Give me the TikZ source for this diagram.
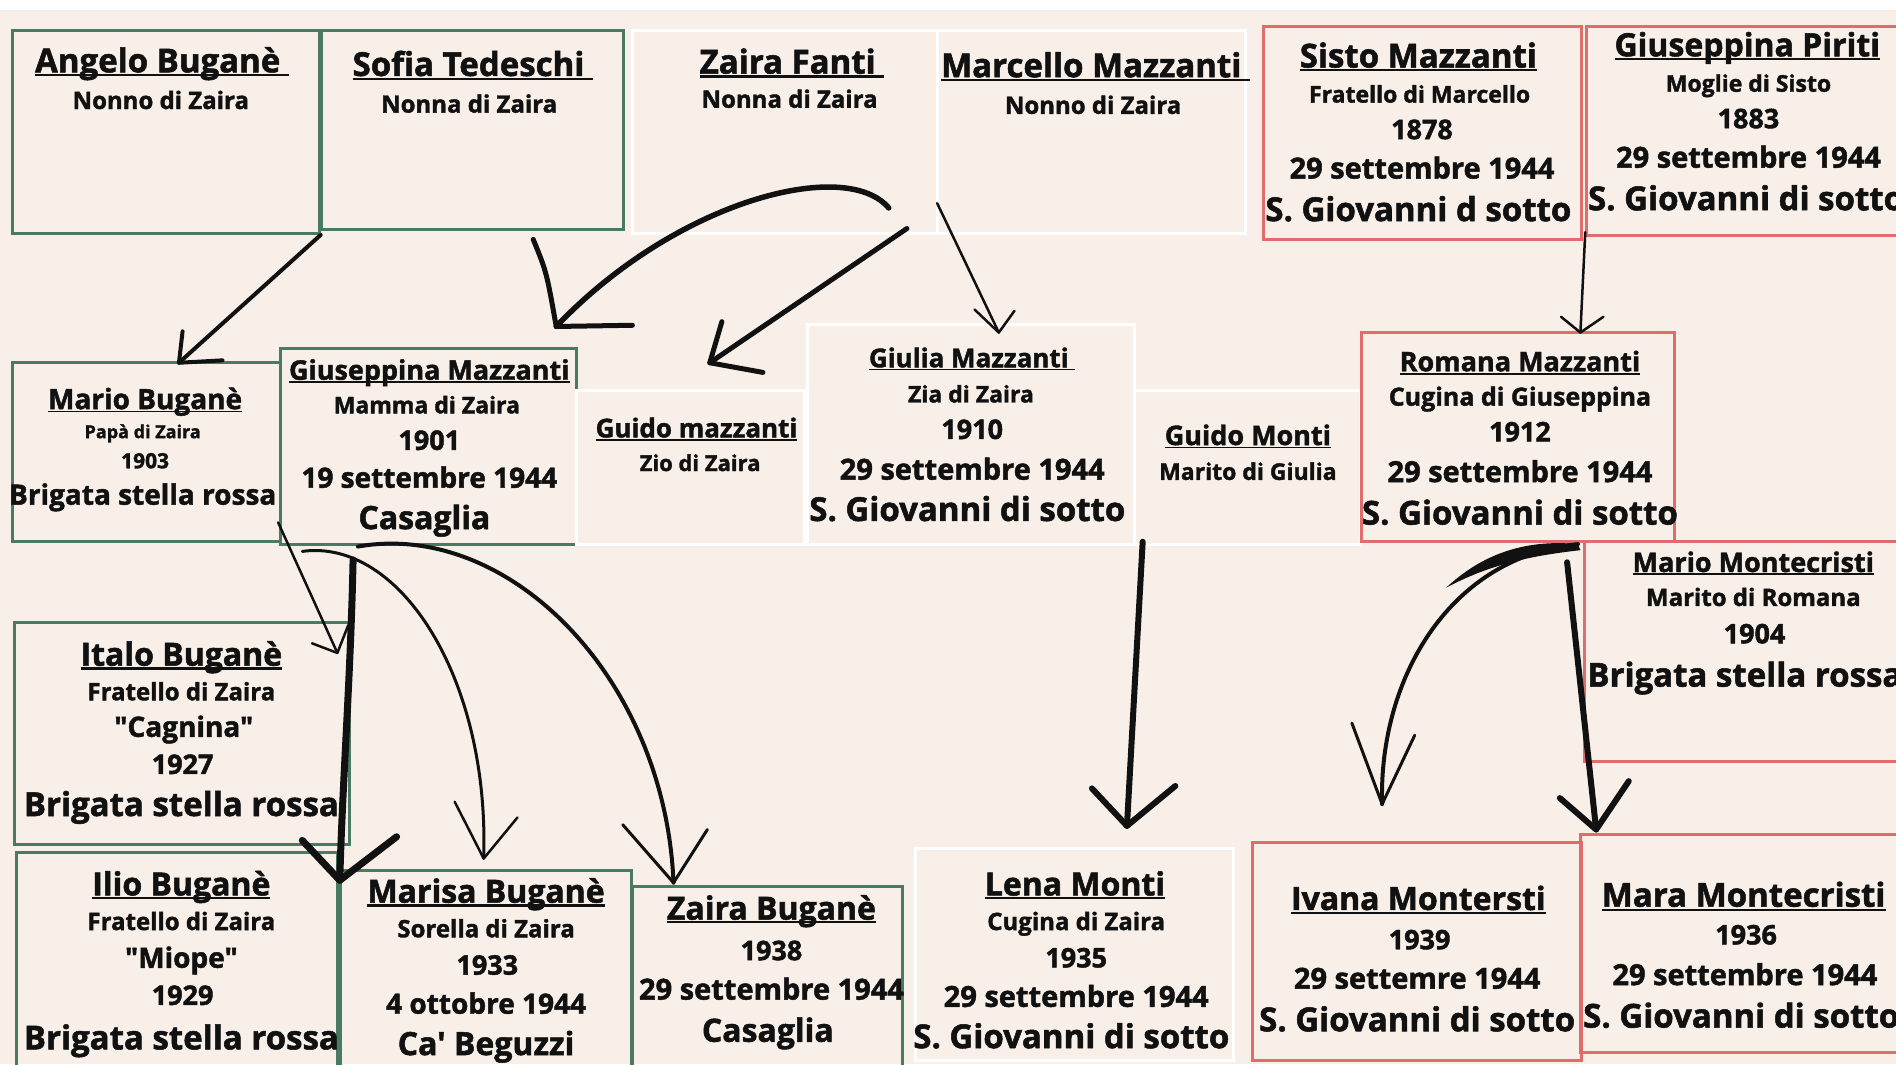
\documentclass[tikz,border=0pt]{standalone}
\usepackage{fontspec}
\newfontfamily\osans{Open Sans}
\usetikzlibrary{fit}
\definecolor{bg}{HTML}{F8F0E8}
\definecolor{gr}{HTML}{4A7A62}
\definecolor{rd}{HTML}{E06C6C}
\definecolor{wt}{HTML}{FFFFFF}
\definecolor{ink}{HTML}{111111}
\newcommand\ul[1]{\setbox0\hbox{#1}\rlap{\rule[-0.12em]{\wd0}{0.065em}}\box0}
\newcounter{tn}
\newcommand\tx[4]{\stepcounter{tn}\node[txt] (t\arabic{tn}) at (#1,{#2+0.298*#3}) {\fontsize{#3pt}{#3pt}\selectfont\addfontfeature{FakeBold=1.6}#4};}
\newcommand\bx[6]{\node[#2, fit={(#3,#4) (#5,#6)}] (#1) {};}
\tikzset{
 txt/.style={anchor=base, inner sep=0pt, text=ink, font=\osans\bfseries},
 gbox/.style={draw=gr, line width=3pt, inner sep=0pt},
 rbox/.style={draw=rd, line width=3pt, inner sep=0pt},
 wbox/.style={draw=wt, line width=3pt, inner sep=0pt},
 pen/.style={draw=ink, line cap=round, line join=round},
}
\begin{document}
\begin{tikzpicture}[x=1.2092pt,y=-1.2092pt]
\useasboundingbox (0,0) rectangle (1568,880);
\clip (0,0) rectangle (1568,880);
\fill[white] (0,0) rectangle (1568,8);
\fill[bg] (0,8) rectangle (1568,880);
% boxes
\bx{angelo}{gbox}{10}{25}{264}{193}
\bx{sofia}{gbox}{266}{25}{516}{190}
\bx{zfanti}{wbox}{523}{25}{775}{193}
\bx{marcello}{wbox}{775}{25}{1030}{193}
\bx{sisto}{rbox}{1045}{22}{1308}{198}
\bx{piriti}{rbox}{1312}{22}{1580}{195}
\bx{mario}{gbox}{10}{300}{232}{448}
\bx{gmazz}{gbox}{232}{288}{477}{450}
\bx{guidomz}{wbox}{477}{323}{665}{450}
\bx{giulia}{wbox}{668}{268}{938}{450}
\bx{guidomonti}{wbox}{938}{323}{1125}{450}
\bx{romana}{rbox}{1126}{275}{1385}{448}
\bx{montecristi}{rbox}{1310}{448}{1580}{630}
\bx{italo}{gbox}{12}{515}{289}{698}
\bx{ilio}{gbox}{14}{705}{279}{895}
\bx{marisa}{gbox}{282}{720}{522}{895}
\bx{zbug}{gbox}{523}{733}{746}{895}
\bx{lena}{wbox}{757}{702}{1020}{877}
\bx{ivana}{rbox}{1036}{697}{1308}{877}
\bx{mara}{rbox}{1307}{690}{1580}{870}
% texts row 1
\tx{134}{50}{33}{\ul{Angelo Buganè\ }}
\tx{133}{83}{24}{Nonno di Zaira}
\tx{391}{53}{33}{\ul{Sofia Tedeschi\ }}
\tx{388}{86}{24}{Nonna di Zaira}
\tx{655}{51}{33}{\ul{Zaira Fanti\ }}
\tx{653}{82}{24}{Nonna di Zaira}
\tx{906}{54}{33}{\ul{Marcello Mazzanti\ }}
\tx{904}{87}{24}{Nonno di Zaira}
\tx{1173}{46}{33}{\ul{Sisto Mazzanti}}
\tx{1174}{78}{23}{Fratello di Marcello}
\tx{1176}{107}{27}{1878}
\tx{1176}{139}{29}{29 settembre 1944}
\tx{1173}{173}{33}{S. Giovanni d sotto}
\tx{1445}{37}{32}{\ul{Giuseppina Piriti}}
\tx{1446}{69}{23}{Moglie di Sisto}
\tx{1446}{98}{27}{1883}
\tx{1446}{130}{29}{29 settembre 1944}
\tx{1444}{164}{33}{S. Giovanni di sotto}
% row 2
\tx{120}{330}{28}{\ul{Mario Buganè}}
\tx{118}{357}{18}{Papà di Zaira}
\tx{120}{381}{21}{1903}
\tx{118}{409}{28}{Brigata stella rossa}
\tx{355}{306}{27}{\ul{Giuseppina Mazzanti}}
\tx{353}{335}{23}{Mamma di Zaira}
\tx{355}{364}{27}{1901}
\tx{355}{395}{28}{19 settembre 1944}
\tx{351}{428}{32}{Casaglia}
\tx{576}{354}{26}{\ul{Guido mazzanti}}
\tx{579}{383}{22}{Zio di Zaira}
\tx{804}{296}{26}{\ul{Giulia Mazzanti\ }}
\tx{803}{326}{23}{Zia di Zaira}
\tx{804}{355}{27}{1910}
\tx{804}{388}{29}{29 settembre 1944}
\tx{800}{421}{33}{S. Giovanni di sotto}
\tx{1032}{360}{27}{\ul{Guido Monti}}
\tx{1032}{390}{23}{Marito di Giulia}
\tx{1257}{299}{27}{\ul{Romana Mazzanti}}
\tx{1257}{328}{25}{Cugina di Giuseppina}
\tx{1257}{357}{27}{1912}
\tx{1257}{390}{29}{29 settembre 1944}
\tx{1257}{424}{33}{S. Giovanni di sotto}
\tx{1450}{465}{27}{\ul{Mario Montecristi}}
\tx{1450}{494}{24}{Marito di Romana}
\tx{1451}{524}{27}{1904}
\tx{1443}{558}{33}{Brigata stella rossa}
% row 3/4
\tx{150}{541}{32}{\ul{Italo Buganè}}
\tx{150}{572}{24}{Fratello di Zaira}
\tx{152}{601}{28}{"Cagnina"}
\tx{151}{632}{27}{1927}
\tx{150}{665}{33}{Brigata stella rossa}
\tx{150}{731}{32}{\ul{Ilio Buganè}}
\tx{150}{762}{24}{Fratello di Zaira}
\tx{150}{792}{28}{"Miope"}
\tx{151}{823}{27}{1929}
\tx{150}{858}{33}{Brigata stella rossa}
\tx{402}{737}{32}{\ul{Marisa Buganè}}
\tx{402}{768}{24}{Sorella di Zaira}
\tx{403}{798}{27}{1933}
\tx{402}{830}{28}{4 ottobre 1944}
\tx{402}{863}{32}{Ca' Beguzzi}
\tx{638}{751}{32}{\ul{Zaira Buganè}}
\tx{638}{786}{27}{1938}
\tx{638}{818}{29}{29 settembre 1944}
\tx{635}{852}{32}{Casaglia}
\tx{889}{731}{32}{\ul{Lena Monti}}
\tx{890}{762}{24}{Cugina di Zaira}
\tx{890}{792}{27}{1935}
\tx{890}{824}{29}{29 settembre 1944}
\tx{886}{857}{33}{S. Giovanni di sotto}
\tx{1173}{743}{32}{\ul{Ivana Montersti}}
\tx{1174}{777}{27}{1939}
\tx{1172}{809}{29}{29 settemre 1944}
\tx{1172}{843}{33}{S. Giovanni di sotto}
\tx{1442}{740}{33}{\ul{Mara Montecristi}}
\tx{1444}{773}{27}{1936}
\tx{1443}{806}{29}{29 settembre 1944}
\tx{1440}{840}{33}{S. Giovanni di sotto}
% arrows
% 1 Angelo/Sofia -> Mario
\coordinate (a1s) at (angelo.south east);
\coordinate (a1t) at (148,300);
\coordinate (a1l) at (151,274);
\coordinate (a1r) at (184,298);
\draw[pen, line width=4pt] (a1s) -- (a1t);
\draw[pen, line width=4pt] (a1l) -- (a1t) -- (a1r);
% 2 Zaira Fanti/Marcello -> Giuseppina
\coordinate (a2s) at (735,172);
\coordinate (a2t) at (460,270);
\coordinate (a2l) at (441,198);
\coordinate (a2r) at (523,269);
\draw[pen, line width=5.5pt] (a2s) .. controls (700,130) and (560,165) .. (a2t);
\draw[pen, line width=5pt] (a2l) .. controls (452,225) .. (a2t) -- (a2r);
% 3 -> Guido mazzanti
\coordinate (a3s) at (750,189);
\coordinate (a3t) at (587,300);
\coordinate (a3l) at (597,266);
\coordinate (a3r) at (631,308);
\draw[pen, line width=5pt] (a3s) -- (a3t);
\draw[pen, line width=5pt] (a3l) -- (a3t) -- (a3r);
% 4 -> Giulia
\coordinate (a4s) at (775,168);
\coordinate (a4t) at (826,275);
\coordinate (a4l) at (806,256);
\coordinate (a4r) at (839,257);
\draw[pen, line width=2.5pt] (a4s) -- (a4t);
\draw[pen, line width=2.5pt] (a4l) -- (a4t) -- (a4r);
% 5 Sisto -> Romana
\coordinate (a5s) at (1311,192);
\coordinate (a5t) at (1307,275);
\coordinate (a5l) at (1291,262);
\coordinate (a5r) at (1326,262);
\draw[pen, line width=2.5pt] (a5s) -- (a5t);
\draw[pen, line width=2.5pt] (a5l) -- (a5t) -- (a5r);
% 6 Mario -> Italo
\coordinate (a6s) at (230,432);
\coordinate (a6t) at (279,540);
\coordinate (a6l) at (258,532);
\coordinate (a6r) at (288,517);
\draw[pen, line width=2.5pt] (a6s) -- (a6t);
\draw[pen, line width=2.5pt] (a6l) -- (a6t) -- (a6r);
% 7 Giuseppina -> Ilio
\coordinate (a7s) at (292,463);
\coordinate (a7t) at (281,728);
\coordinate (a7l) at (250,695);
\coordinate (a7r) at (328,692);
\draw[pen, line width=7pt] (a7s) .. controls (290,560) and (283,650) .. (a7t);
\draw[pen, line width=7pt] (a7l) -- (a7t) -- (a7r);
% 8 -> Marisa
\coordinate (a8s) at (250,456);
\coordinate (a8t) at (400,710);
\coordinate (a8l) at (376,663);
\coordinate (a8r) at (428,676);
\draw[pen, line width=3pt] (a8s) .. controls (330,445) and (405,560) .. (a8t);
\draw[pen, line width=2.5pt] (a8l) -- (a8t) -- (a8r);
% 9 -> Zaira
\coordinate (a9s) at (296,452);
\coordinate (a9t) at (557,730);
\coordinate (a9l) at (515,682);
\coordinate (a9r) at (585,686);
\draw[pen, line width=4pt] (a9s) .. controls (420,430) and (550,560) .. (a9t);
\draw[pen, line width=3pt] (a9l) -- (a9t) -- (a9r);
% 10 Giulia/Guido -> Lena
\coordinate (a10s) at (945,448);
\coordinate (a10t) at (932,683);
\coordinate (a10l) at (903,652);
\coordinate (a10r) at (972,650);
\draw[pen, line width=6pt] (a10s) -- (a10t);
\draw[pen, line width=6pt] (a10l) -- (a10t) -- (a10r);
% 11 Romana -> Ivana
\coordinate (a11s) at (1305,450);
\coordinate (a11t) at (1143,665);
\coordinate (a11l) at (1118,598);
\coordinate (a11r) at (1170,608);
\fill[ink] (a11s) .. controls (1265,446) and (1228,456) .. (1196,486)
  .. controls (1230,468) and (1262,460) .. (1307,455) -- cycle;
\draw[pen, line width=4pt] (a11s) .. controls (1200,460) and (1140,560) .. (a11t);
\draw[pen, line width=3pt] (a11l) -- (a11t) -- (a11r);
% 12 Romana/Mario -> Mara
\coordinate (a12s) at (1296,465);
\coordinate (a12t) at (1320,686);
\coordinate (a12l) at (1290,660);
\coordinate (a12r) at (1347,646);
\draw[pen, line width=6pt] (a12s) -- (a12t);
\draw[pen, line width=6pt] (a12l) -- (a12t) -- (a12r);
\end{tikzpicture}
\end{document}
